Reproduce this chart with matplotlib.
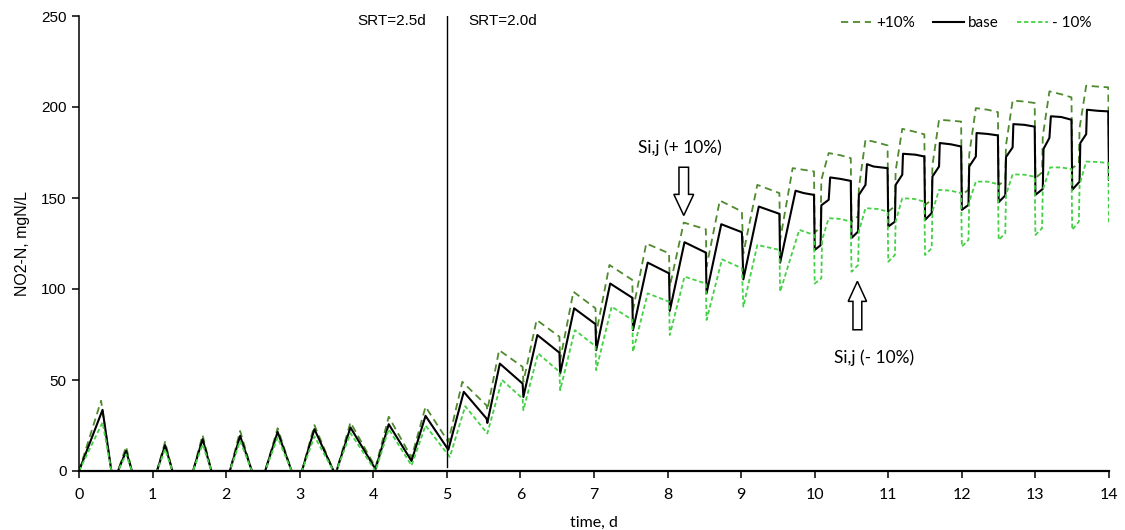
import matplotlib
matplotlib.use("Agg")
import matplotlib.pyplot as plt
from matplotlib.patches import FancyArrow

# ---- data ----
# base run
base_t = [0, 0.32, 0.44, 0.53, 0.64, 0.72, 1.06, 1.17, 1.27, 1.55, 1.68, 1.80,
          2.05, 2.19, 2.35, 2.53, 2.70, 2.89, 3.03, 3.20, 3.46, 3.50, 3.69, 4.03,
          4.21, 4.52, 4.71, 5.02,
          5.23, 5.54, 5.55, 5.72, 6.03, 6.04, 6.23, 6.53, 6.54, 6.73, 7.02, 7.03,
          7.22, 7.52, 7.53, 7.73, 8.02, 8.03, 8.23, 8.52, 8.53, 8.73, 9.01, 9.03,
          9.24, 9.52, 9.53, 9.74, 9.85, 9.99,
          10.0, 10.08, 10.09, 10.19, 10.21, 10.35, 10.49,
          10.5, 10.59, 10.6, 10.69, 10.71, 10.8, 10.99,
          11.0, 11.09, 11.1, 11.19, 11.2, 11.37, 11.49,
          11.5, 11.59, 11.6, 11.69, 11.7, 11.85, 11.99,
          12.0, 12.09, 12.1, 12.19, 12.2, 12.35, 12.49,
          12.5, 12.59, 12.6, 12.69, 12.7, 12.85, 12.99,
          13.0, 13.1, 13.11, 13.19, 13.21, 13.35, 13.49,
          13.5, 13.6, 13.61, 13.69, 13.7, 13.85, 13.99, 14.0]
base_v = [0, 33.6, 0, 0, 11, 0, 0, 14.2, 0, 0, 17.5, 0,
          0, 19.3, 0, 0, 21.5, 0, 0, 23, 0, 0, 23.9, 1,
          25.7, 5.5, 30.3, 11.7,
          43.5, 28.8, 26.4, 59, 48, 40.7, 74.7, 65, 53.6, 89.4, 80.7, 66.4,
          103, 95.2, 77.4, 114.5, 108.6, 88, 125.7, 120, 97.6, 135.6, 131.2, 105.3,
          145.3, 141.3, 114.5, 154, 152.7, 151.7,
          121.5, 124, 146, 149, 161.3, 160.5, 159.4,
          128, 131.6, 151.7, 157.2, 168.6, 167.3, 166.4,
          134.3, 137, 157.2, 162.8, 174.3, 173.8, 172.8,
          138, 141.7, 161.8, 167.3, 180.2, 179.5, 178.3,
          143.5, 146.2, 167.3, 172.8, 185.7, 185.2, 184.4,
          147.7, 151.4, 172.5, 177.8, 190.6, 190.2, 189.2,
          151.7, 155, 177, 183, 194.9, 194.5, 193,
          154.5, 159, 180.2, 185.1, 198.5, 197.9, 197.6, 160]

# +10 %
plus_t = [0, 0.30, 0.44, 0.53, 0.64, 0.72, 1.06, 1.17, 1.27, 1.55, 1.68, 1.80,
          2.05, 2.19, 2.35, 2.53, 2.70, 2.89, 3.03, 3.20, 3.46, 3.50, 3.69, 4.03,
          4.21, 4.52, 4.71, 5.02,
          5.21, 5.54, 5.55, 5.71, 6.03, 6.04, 6.22, 6.53, 6.54, 6.72, 7.02, 7.03,
          7.21, 7.52, 7.53, 7.71, 8.02, 8.03, 8.22, 8.52, 8.53, 8.71, 9.01, 9.03,
          9.22, 9.52, 9.53, 9.70, 9.85, 9.99,
          10.0, 10.08, 10.09, 10.19, 10.35, 10.49,
          10.5, 10.59, 10.6, 10.69, 10.85, 10.99,
          11.0, 11.09, 11.1, 11.19, 11.35, 11.49,
          11.5, 11.59, 11.6, 11.69, 11.85, 11.99,
          12.0, 12.09, 12.1, 12.19, 12.35, 12.49,
          12.5, 12.59, 12.6, 12.69, 12.85, 12.99,
          13.0, 13.09, 13.1, 13.19, 13.35, 13.49,
          13.5, 13.59, 13.6, 13.69, 13.85, 13.99, 14.0]
plus_v = [0, 38.6, 0, 0, 13.4, 0, 0, 16, 0, 0, 19.7, 0,
          0, 22, 0, 0, 23.5, 0, 0, 25.2, 0, 0, 26.7, 2,
          29.8, 7.4, 35.3, 16,
          49, 36, 33.4, 66.4, 57.2, 49, 83, 73.8, 61, 98.5, 89.4, 75.6,
          113.2, 105, 88.4, 125, 119.6, 101.3, 136.5, 132.8, 112.3, 148.6, 142.6, 119.6,
          157.2, 152.7, 127, 166.4, 165.5, 164.6,
          131, 134, 160, 174.7, 173.5, 171.9,
          137, 140, 155.4, 182, 180.5, 178.9,
          142.6, 145.5, 165, 188, 186.5, 185,
          146.2, 149, 168, 193, 192.5, 192,
          151.7, 154.5, 173.8, 199.4, 198.5, 197.2,
          157, 160, 179, 203.5, 203, 202.2,
          161, 164, 183.9, 208.6, 207, 205.3,
          166.4, 169, 188.4, 211.7, 211.2, 210.8, 170]

# -10 %
minus_t = [0, 0.32, 0.44, 0.53, 0.64, 0.72, 1.06, 1.17, 1.27, 1.55, 1.68, 1.80,
           2.05, 2.19, 2.35, 2.53, 2.70, 2.89, 3.03, 3.20, 3.46, 3.50, 3.69, 4.03,
           4.21, 4.52, 4.71, 5.04,
           5.25, 5.55, 5.75, 6.03, 6.04, 6.24, 6.53, 6.54, 6.74, 7.02, 7.03,
           7.24, 7.52, 7.53, 7.73, 8.02, 8.03, 8.23, 8.52, 8.53, 8.74, 9.01, 9.03,
           9.22, 9.52, 9.53, 9.79, 9.99,
           10.0, 10.09, 10.1, 10.19, 10.35, 10.49,
           10.5, 10.59, 10.6, 10.69, 10.85, 10.99,
           11.0, 11.09, 11.1, 11.19, 11.35, 11.49,
           11.5, 11.59, 11.6, 11.69, 11.85, 11.99,
           12.0, 12.09, 12.1, 12.19, 12.35, 12.49,
           12.5, 12.59, 12.6, 12.69, 12.85, 12.99,
           13.0, 13.09, 13.1, 13.2, 13.35, 13.49,
           13.5, 13.59, 13.6, 13.69, 13.85, 13.99, 14.0]
minus_v = [0, 26.7, 0, 0, 9.2, 0, 0, 12, 0, 0, 14.7, 0,
           0, 16.5, 0, 0, 18.4, 0, 0, 19, 0, 0, 20.8, 0,
           23, 3, 25, 7.7,
           35.6, 20.6, 50, 39.8, 33.4, 64.6, 54.5, 44.4, 77.4, 68.6, 55.4,
           90.3, 83, 65.5, 97.6, 93, 74.7, 106.8, 103, 83, 116.3, 111.4, 90.3,
           124.2, 121.5, 98.5, 132.5, 129.7,
           103, 105.9, 127, 138.9, 138.5, 137,
           109.5, 113.2, 131.6, 144.4, 144, 142.6,
           115, 118.7, 137, 149.9, 149.5, 148,
           118.7, 122.4, 142.6, 154.5, 154, 152.7,
           123.3, 127, 148, 159, 159, 157.6,
           127, 130.6, 151.7, 163, 162.8, 161.7,
           129.7, 133.4, 154.5, 166.8, 166.8, 165.9,
           132.5, 137, 157.2, 170, 169.8, 169.2, 135]

x_ticks = list(range(0, 15))
y_ticks = [0, 50, 100, 150, 200, 250]

dark_green = '#4F8A2F'
light_green = '#45D145'
arial = ['Liberation Sans', 'DejaVu Sans']
aptos = ['Lato', 'DejaVu Sans']

fig = plt.figure(figsize=(11.25, 5.3), dpi=100)
ax = fig.add_axes([79/1125, 59/530, 1030/1125, 455/530])

ax.plot(plus_t, plus_v, color=dark_green, lw=1.3, dashes=(4, 2.6), label='+10%')
ax.plot(base_t, base_v, color='black', lw=1.5, label='base')
ax.plot(minus_t, minus_v, color=light_green, lw=1.3, dashes=(2.4, 1.5), label='- 10%')

# SRT switch
ax.plot([5, 5], [2, 250], color='black', lw=1.0)
ax.text(4.72, 247, 'SRT=2.5d', ha='right', va='center', fontsize=11, family=arial)
ax.text(5.29, 247, 'SRT=2.0d', ha='left', va='center', fontsize=11, family=arial)

# hollow arrows + labels
ax.add_patch(FancyArrow(8.22, 166.9, 0, -26.5, width=0.13, head_width=0.27, head_length=11.6,
                        length_includes_head=True, fc='white', ec='black', lw=1.1, zorder=5))
ax.text(8.17, 177.7, 'Si,j (+ 10%)', ha='center', va='center', fontsize=12.5, family=aptos)
ax.add_patch(FancyArrow(10.58, 77.6, 0, 26.6, width=0.12, head_width=0.25, head_length=11,
                        length_includes_head=True, fc='white', ec='black', lw=1.1, zorder=5))
ax.text(10.81, 62, 'Si,j (- 10%)', ha='center', va='center', fontsize=12.5, family=aptos)

ax.set_xlim(0, 14)
ax.set_ylim(0, 250)
ax.set_xticks(x_ticks)
ax.set_yticks(y_ticks)
ax.spines['top'].set_visible(False)
ax.spines['right'].set_visible(False)
ax.spines['bottom'].set_linewidth(1.6)
ax.spines['left'].set_linewidth(1.1)
ax.tick_params(axis='x', direction='out', length=5, width=1.1, labelsize=11.5, pad=7)
ax.tick_params(axis='y', direction='out', length=5, width=1.1, labelsize=11, pad=4)
for lab in ax.get_xticklabels():
    lab.set_family(aptos)
for lab in ax.get_yticklabels():
    lab.set_family(arial)

ax.set_xlabel('time, d', fontsize=11.5, family=aptos, labelpad=10)
ax.set_ylabel('NO2-N, mgN/L', fontsize=11.5, family=arial, labelpad=8)

leg = fig.legend(loc='center right', bbox_to_anchor=(1092/1125, 1 - 23/530), ncol=3,
                 frameon=False, handlelength=2.0, handletextpad=0.3, columnspacing=1.2,
                 borderaxespad=0, borderpad=0, prop={'family': aptos, 'size': 11})

fig.savefig('out.png', dpi=100)
